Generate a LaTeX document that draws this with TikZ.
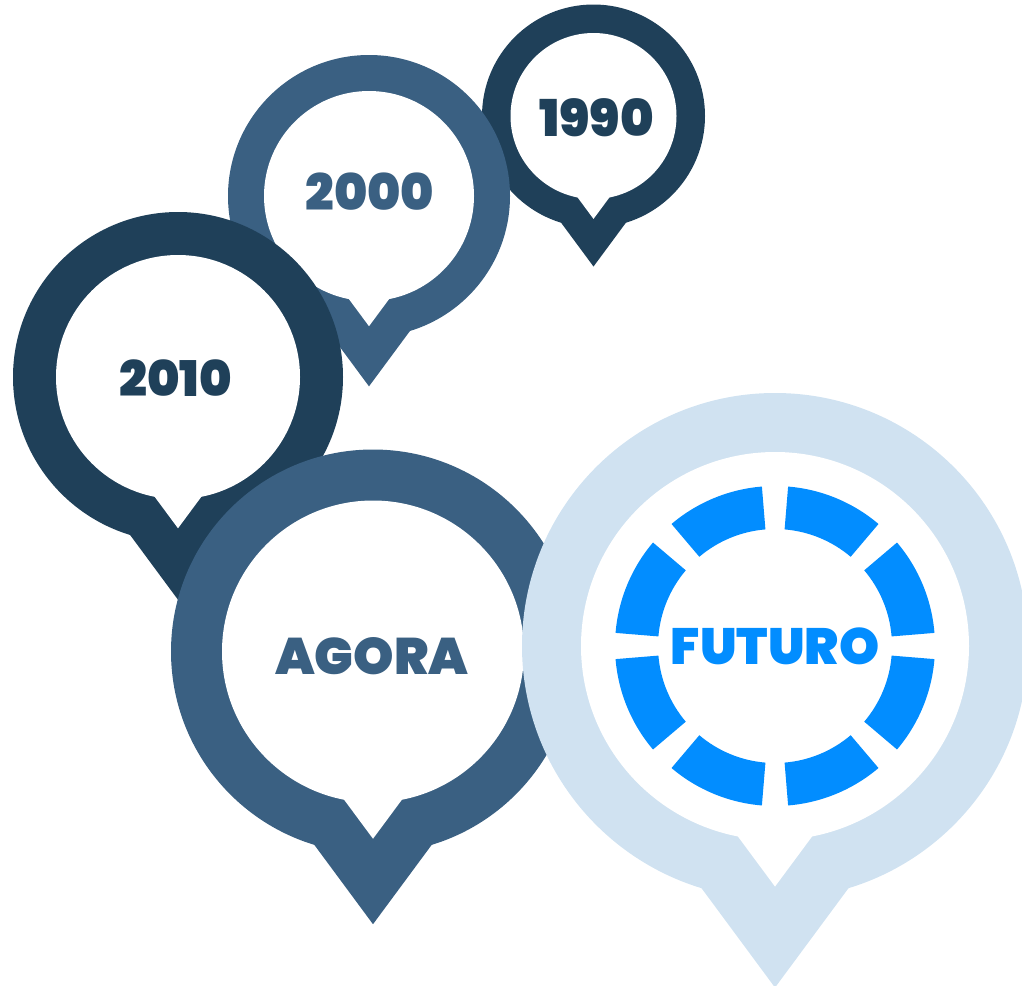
\documentclass[tikz,border=0pt]{standalone}
\usepackage{fontspec}
\newfontfamily\popb{Poppins Black}
\definecolor{navy}{HTML}{1F4059}
\definecolor{steel}{HTML}{3A6082}
\definecolor{pale}{HTML}{D0E2F1}
\definecolor{bright}{HTML}{028DFF}
% #1 cx, #2 cy, #3 outer radius, #4 inner radius, #5 colour
\newcommand\mypin[5]{%
  \fill[#5] (#1,#2) circle[radius=#3];
  \fill[#5] (#1,{#2+1.35*#3}) -- ({#1-0.535*#3},{#2+0.6265*#3})
            -- ({#1+0.535*#3},{#2+0.6265*#3}) -- cycle;
  \fill[white] (#1,#2) circle[radius=#4];
  \fill[white] (#1,{#2+1.24*#4}) -- ({#1-0.357*#4},{#2+0.758*#4})
            -- ({#1+0.357*#4},{#2+0.758*#4}) -- cycle;
}
\tikzset{
  label/.style={inner sep=0pt, font=\popb\fontsize{#1}{#1}\selectfont},
  dashseg/.style={fill=bright}
}
\begin{document}
\begin{tikzpicture}[x=1pt,y=-1pt]
\useasboundingbox (0,0) rectangle (1022,985);
\clip (0,0) rectangle (1022,985);
% 1990
\mypin{593.5}{116}{111.5}{83}{navy}
\node[label=50.8, text=navy] (t1990) at (596.5,118) {1990};
% 2000
\mypin{369}{196}{141}{105}{steel}
\node[label=50.4, text=steel] (t2000) at (370,191.5) {2000};
% 2010
\mypin{178}{377}{165}{122}{navy}
\node[label=49.2, text=navy] (t2010) at (175.5,378) {2010};
% AGORA
\mypin{373}{651.5}{202}{151}{steel}
\node[label=51.4, text=steel] (tagora) at (371.7,656.3) {AGORA};
% FUTURO
\mypin{775}{646}{253}{194}{pale}
\foreach \k in {0,...,7}{
  \fill[dashseg,shift={(775,646)}] ({45*\k+4.7}:117)
    arc[start angle={45*\k+4.7}, end angle={45*\k+40.3}, radius=117]
    -- ({45*\k+40.3}:160)
    arc[start angle={45*\k+40.3}, end angle={45*\k+4.7}, radius=160] -- cycle;
}
\node[label=51, text=bright] (tfuturo) at (775,646) {FUTURO};
\end{tikzpicture}
\end{document}
